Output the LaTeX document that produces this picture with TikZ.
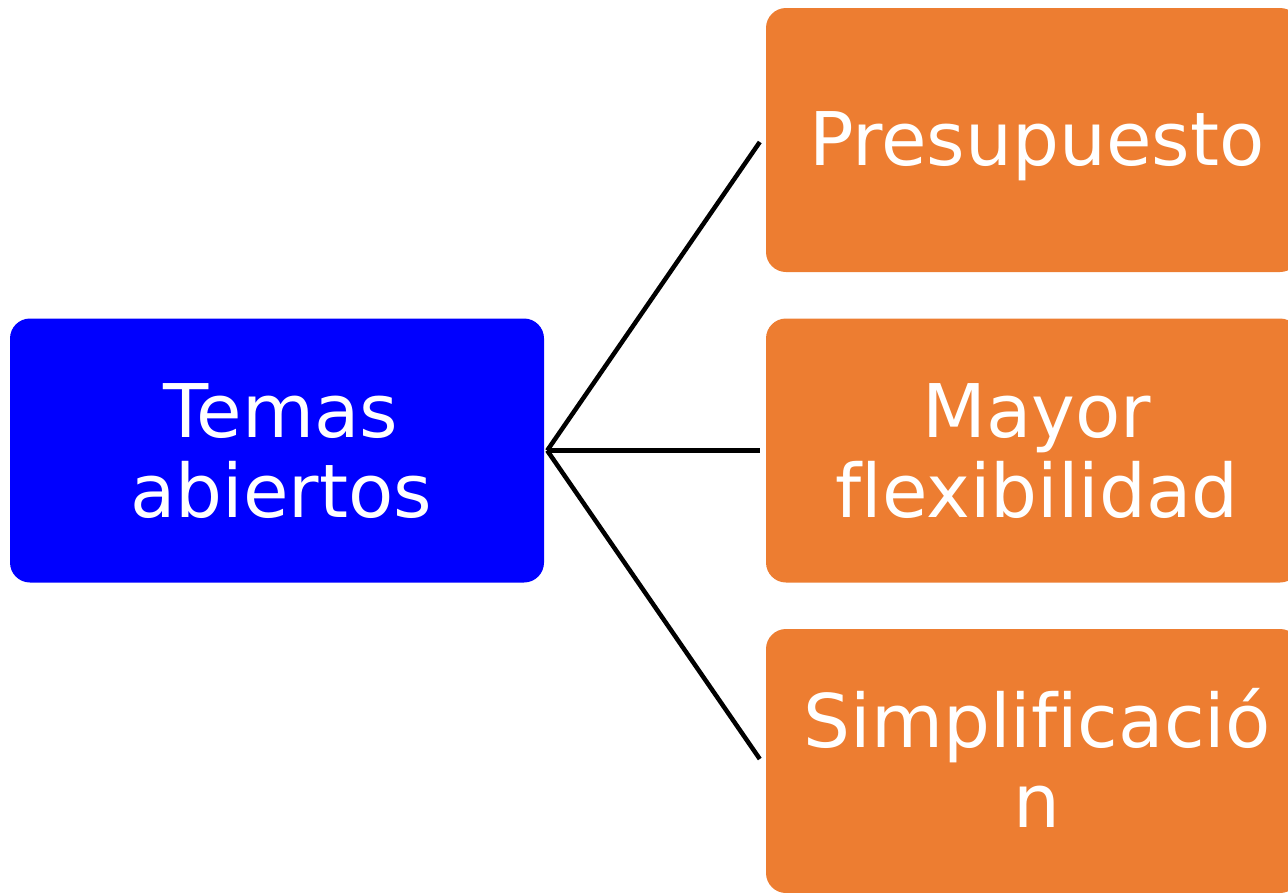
\documentclass[tikz,border=0pt]{standalone}
\usepackage{fontspec}
\setmainfont[Ligatures=NoCommon]{DejaVu Sans}
\definecolor{boxblue}{HTML}{0000FF}
\definecolor{boxorange}{HTML}{ED7D31}
\newcommand{\topstrut}{\rule{0pt}{66.5pt}}
\newcommand{\botstrut}{\rule[-13.5pt]{0pt}{13.5pt}}
\begin{document}
\begin{tikzpicture}[x=1pt,y=1pt,
  card/.style={rounded corners=20pt, minimum width=534pt, minimum height=264pt,
    inner sep=0pt},
  bluecard/.style={card, fill=boxblue},
  orangecard/.style={card, fill=boxorange},
  cardtext/.style={inner sep=0pt, text=white, align=center,
    font=\fontsize{74}{80}\selectfont},
  link/.style={line width=4.5pt, draw=black}]
\useasboundingbox (0,0) rectangle (1288,-892);
\clip (0,0) rectangle (1288,-892);
\node[bluecard] (main) at (277,-450.5) {};
\node[orangecard] (b1) at (1033,-140) {};
\node[orangecard] (b2) at (1033,-450.5) {};
\node[orangecard] (b3) at (1033,-761) {};
\node[cardtext] (t0) at ([xshift=4pt]main.center) {\topstrut Temas\\abiertos\botstrut};
\node[cardtext] (t1) at ([xshift=4pt]b1.center) {\topstrut Presupuesto\botstrut};
\node[cardtext] (t2) at ([xshift=4pt]b2.center) {\topstrut Mayor\\flexibilidad\botstrut};
\node[cardtext] (t3) at ([xshift=4pt]b3.center) {\topstrut Simplificació\\n\botstrut};
\coordinate (hub) at ([xshift=3pt]main.east);
\draw[link] (hub) -- ([xshift=-6pt,yshift=-2pt]b1.west);
\draw[link] (hub) -- ([xshift=-6pt]b2.west);
\draw[link] (hub) -- ([xshift=-6pt,yshift=2pt]b3.west);
\end{tikzpicture}
\end{document}
